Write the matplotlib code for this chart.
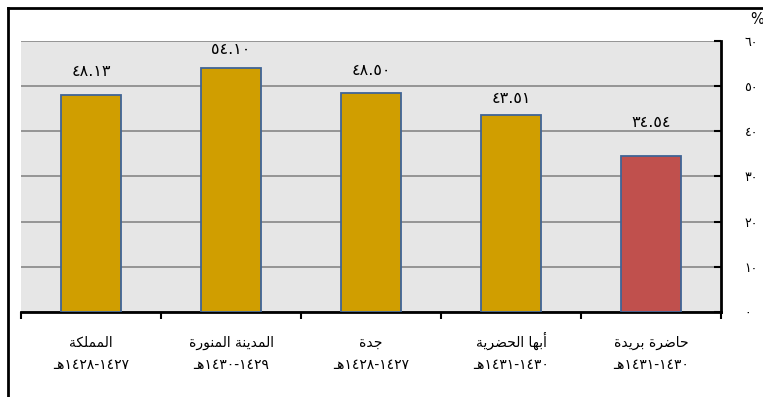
import matplotlib
matplotlib.use('Agg')
import matplotlib.pyplot as plt
from matplotlib.lines import Line2D
from matplotlib.ticker import FuncFormatter, FixedLocator

# data
regions = ['المملكة', 'المدينة المنورة', 'جدة', 'أبها الحضرية', 'حاضرة بريدة']
periods = ['١٤٢٧-١٤٢٨', '١٤٢٩-١٤٣٠', '١٤٢٧-١٤٢٨', '١٤٣٠-١٤٣١', '١٤٣٠-١٤٣١']
values = [48.13, 54.10, 48.50, 43.51, 34.54]
y_ticks = [0, 10, 20, 30, 40, 50, 60]

GOLD = '#D09E00'
RED = '#C0504D'
EDGE = '#3F6496'

# arabic presentation forms: isolated, final, initial, medial
FORMS = {
    'ا': ('\uFE8D', '\uFE8E', None, None),
    'أ': ('\uFE83', '\uFE84', None, None),
    'ب': ('\uFE8F', '\uFE90', '\uFE91', '\uFE92'),
    'ة': ('\uFE93', '\uFE94', None, None),
    'ج': ('\uFE9D', '\uFE9E', '\uFE9F', '\uFEA0'),
    'ح': ('\uFEA1', '\uFEA2', '\uFEA3', '\uFEA4'),
    'د': ('\uFEA9', '\uFEAA', None, None),
    'ر': ('\uFEAD', '\uFEAE', None, None),
    'ض': ('\uFEBD', '\uFEBE', '\uFEBF', '\uFEC0'),
    'ك': ('\uFED9', '\uFEDA', '\uFEDB', '\uFEDC'),
    'ل': ('\uFEDD', '\uFEDE', '\uFEDF', '\uFEE0'),
    'م': ('\uFEE1', '\uFEE2', '\uFEE3', '\uFEE4'),
    'ن': ('\uFEE5', '\uFEE6', '\uFEE7', '\uFEE8'),
    'ه': ('\uFEE9', '\uFEEA', '\uFEEB', '\uFEEC'),
    'و': ('\uFEED', '\uFEEE', None, None),
    'ي': ('\uFEF1', '\uFEF2', '\uFEF3', '\uFEF4'),
    'ـ': ('ـ', 'ـ', 'ـ', 'ـ'),
}


def joins_left(ch):
    # can connect to the next letter
    return ch in FORMS and FORMS[ch][2] is not None


def shape(word):
    out = []
    for i, ch in enumerate(word):
        if ch not in FORMS:
            out.append(ch)
            continue
        prev = word[i - 1] if i > 0 else ''
        nxt = word[i + 1] if i + 1 < len(word) else ''
        p = joins_left(prev)
        n = joins_left(ch) and nxt in FORMS
        iso, fin, ini, med = FORMS[ch]
        if p and n:
            out.append(med)
        elif p:
            out.append(fin)
        elif n:
            out.append(ini)
        else:
            out.append(iso)
    # visual order, right to left
    return ''.join(reversed(out))


AR_DIGITS = str.maketrans('0123456789', '٠١٢٣٤٥٦٧٨٩')


def ar_num(v, fmt='{:.2f}'):
    return fmt.format(v).translate(AR_DIGITS)


def period_label(p):
    # logical "1427-1428هـ" shown right to left
    a, b = p.split('-')
    return shape('هـ') + b + '-' + a


plt.rcParams['font.family'] = ['DejaVu Sans']

fig = plt.figure(figsize=(7.63, 3.97), dpi=100)
ax = fig.add_axes([21 / 763, (397 - 312) / 397, 700 / 763, 271 / 397])
ax.set_facecolor('#E6E6E6')

x = list(range(len(values)))
colors = [GOLD] * (len(values) - 1) + [RED]
bars = ax.bar(x, values, width=0.43, color=colors, edgecolor=EDGE, linewidth=1.3, zorder=3)

label_offsets = [17, 13, 16, 12, 24]
for b, v, off in zip(bars, values, label_offsets):
    ax.annotate(ar_num(v), (b.get_x() + b.get_width() / 2, v),
                xytext=(0, off), textcoords='offset points',
                ha='center', va='center', fontsize=11.5)

ax.set_xlim(-0.5, len(values) - 0.5)
ax.set_ylim(0, 60)
ax.yaxis.tick_right()
ax.set_yticks(y_ticks)
ax.yaxis.set_major_formatter(FuncFormatter(lambda v, pos: ar_num(v, '{:.0f}')))
ax.tick_params(axis='y', direction='in', length=5, width=1.5, pad=17, labelsize=9)
ax.yaxis.grid(True, color='#8E8E8E', linewidth=1.3, zorder=0)

ax.set_xticks(x)
ax.set_xticklabels([])
ax.tick_params(axis='x', length=0)
ax.xaxis.set_minor_locator(FixedLocator([i - 0.5 for i in range(len(values) + 1)]))
ax.tick_params(axis='x', which='minor', direction='out', length=5, width=1.5)

# two-line category labels, placed by baseline so both lines stay level
tr = ax.get_xaxis_transform()
for i, (r, p) in enumerate(zip(regions, periods)):
    ax.text(i, -(347 - 312) / 271, shape(r), transform=tr, ha='center', va='baseline',
            fontsize=10)
    ax.text(i, -(369 - 312) / 271, period_label(p), transform=tr, ha='center',
            va='baseline', fontsize=10)

for s in ['top', 'left']:
    ax.spines[s].set_visible(False)
for s in ['bottom', 'right']:
    ax.spines[s].set_linewidth(2)

fig.text(750 / 763, 1 - 19 / 397, '%', fontsize=10.5, ha='left', va='center')

# outer frame (cropped at right and bottom)
fig.add_artist(Line2D([8 / 763, 1.0], [1 - 8 / 397, 1 - 8 / 397], color='black', lw=2,
                      transform=fig.transFigure))
fig.add_artist(Line2D([8 / 763, 8 / 763], [0, 1 - 8 / 397], color='black', lw=2,
                      transform=fig.transFigure))

fig.savefig('out.png', dpi=100)
